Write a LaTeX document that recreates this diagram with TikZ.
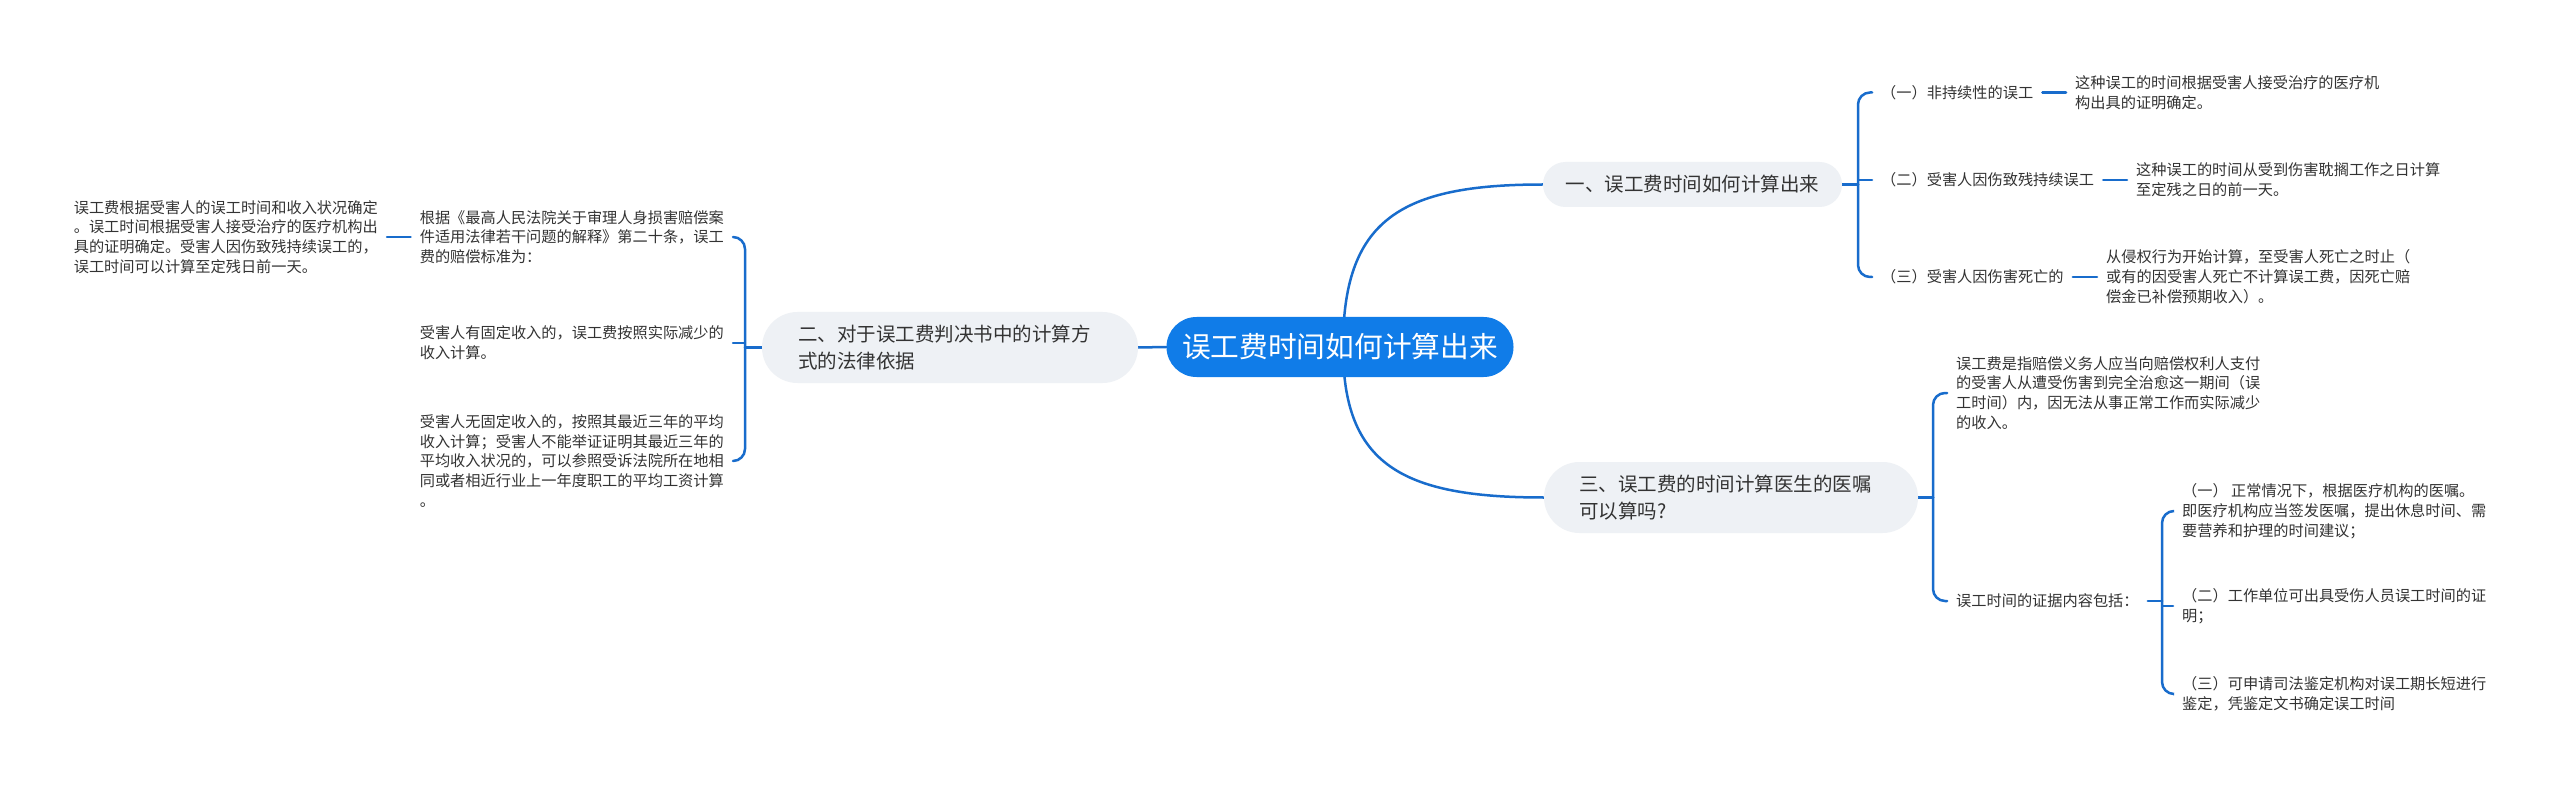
\documentclass[tikz,border=0pt]{standalone}
\usepackage{fontspec}
\setmainfont{Noto Sans CJK SC}
\definecolor{rootblue}{RGB}{16,124,232}
\definecolor{linkblue}{RGB}{24,108,204}
\definecolor{branchgray}{RGB}{238,241,245}
\definecolor{txt}{RGB}{51,51,51}
\pgfdeclarelayer{bg}
\pgfsetlayers{bg,main}
\begin{document}
\begin{tikzpicture}[x=1pt,y=-1pt,
  link/.style={draw=linkblue, line width=2.5pt, line cap=round},
  rc/.style={rounded corners=12pt},
  rootnode/.style={fill=rootblue, text=white, rounded corners=30pt, minimum width=347pt, minimum height=60pt, inner sep=0pt, font=\fontsize{28.7}{34}\selectfont},
  branchnode/.style={fill=branchgray, text=txt, align=left, font=\fontsize{19.5}{27}\selectfont, inner ysep=0pt},
  leaf/.style={text=txt, align=left, inner xsep=9pt, inner ysep=2pt, font=\fontsize{15.2}{19.8}\selectfont},
]
\useasboundingbox (0,0) rectangle (2560,786);

% root and main branches
\node[rootnode] (root) at (1340,347) {误工费时间如何计算出来};
\node[branchnode, minimum width=299pt, minimum height=45pt, rounded corners=22.5pt, inner xsep=0pt] (b1) at (1692.5,184.5) {一、误工费时间如何计算出来};
\node[branchnode, text width=304pt, inner xsep=36pt, minimum height=71pt, rounded corners=35.5pt] (b2) at (950,347.5) {二、对于误工费判决书中的计算方\\式的法律依据};
\node[branchnode, text width=304pt, inner xsep=35pt, minimum height=71pt, rounded corners=35.5pt] (b3) at (1731,497.5) {三、误工费的时间计算医生的医嘱\\可以算吗?};

% branch 1 children
\coordinate (s1) at (1858,184.5);
\node[leaf, anchor=west] (c11) at (1872,92.5) {（一）非持续性的误工};
\node[leaf, anchor=west] (l11) at (2066,92.5) {这种误工的时间根据受害人接受治疗的医疗机\\构出具的证明确定。};
\node[leaf, anchor=west] (c12) at (1872,180) {（二）受害人因伤致残持续误工};
\node[leaf, anchor=west] (l12) at (2127,180) {这种误工的时间从受到伤害耽搁工作之日计算\\至定残之日的前一天。};
\node[leaf, anchor=west] (c13) at (1872,277) {（三）受害人因伤害死亡的};
\node[leaf, anchor=west] (l13) at (2097,277) {从侵权行为开始计算，至受害人死亡之时止（\\或有的因受害人死亡不计算误工费，因死亡赔\\偿金已补偿预期收入）。};

% branch 3 children
\coordinate (s3) at (1933,497.5);
\node[leaf, anchor=west] (c31) at (1947,393) {误工费是指赔偿义务人应当向赔偿权利人支付\\的受害人从遭受伤害到完全治愈这一期间（误\\工时间）内，因无法从事正常工作而实际减少\\的收入。};
\node[leaf, anchor=west] (c32) at (1947,601) {误工时间的证据内容包括：};
\coordinate (s32) at (2162,601);
\node[leaf, anchor=west] (d1) at (2173,511) {（一） 正常情况下，根据医疗机构的医嘱。\\即医疗机构应当签发医嘱，提出休息时间、需\\要营养和护理的时间建议；};
\node[leaf, anchor=west] (d2) at (2173,606) {（二）工作单位可出具受伤人员误工时间的证\\明；};
\node[leaf, anchor=west] (d3) at (2173,694) {（三）可申请司法鉴定机构对误工期长短进行\\鉴定，凭鉴定文书确定误工时间};

% branch 2 children
\coordinate (s2) at (745,347.5);
\node[leaf, anchor=east] (e1) at (733,237) {根据《最高人民法院关于审理人身损害赔偿案\\件适用法律若干问题的解释》第二十条，误工\\费的赔偿标准为：};
\node[leaf, anchor=east] (e2) at (733,343) {受害人有固定收入的，误工费按照实际减少的\\收入计算。};
\node[leaf, anchor=east] (e3) at (733,461) {受害人无固定收入的，按照其最近三年的平均\\收入计算；受害人不能举证证明其最近三年的\\平均收入状况的，可以参照受诉法院所在地相\\同或者相近行业上一年度职工的平均工资计算\\。};
\node[leaf, anchor=east] (f1) at (387,237) {误工费根据受害人的误工时间和收入状况确定\\。误工时间根据受害人接受治疗的医疗机构出\\具的证明确定。受害人因伤致残持续误工的，\\误工时间可以计算至定残日前一天。};

\begin{pgfonlayer}{bg}
\fill[white] (0,0) rectangle (2560,786);
% root links
\draw[link] ([xshift=3pt]root.center) .. controls +(0,-127) and +(-143,0) .. (b1.west);
\draw[link] ([xshift=3pt]root.center) .. controls +(0,117) and +(-143,0) .. (b3.west);
\draw[link] (b2.east) -- (root.west);
% branch 1
\draw[link] (b1.east) -- (s1);
\draw[link, rc] (s1) |- (c11.west);
\draw[link] (s1) |- (c12.west);
\draw[link, rc] (s1) |- (c13.west);
\draw[link] (c11.east) -- (l11.west);
\draw[link] (c12.east) -- (l12.west);
\draw[link] (c13.east) -- (l13.west);
% branch 3
\draw[link] (b3.east) -- (s3);
\draw[link, rc] (s3) |- (c31.west);
\draw[link, rc] (s3) |- (c32.west);
\draw[link] (c32.east) -- (s32);
\draw[link, rc] (s32) |- (d1.west);
\draw[link] (s32) |- (d2.west);
\draw[link, rc] (s32) |- (d3.west);
% branch 2
\draw[link] (b2.west) -- (s2);
\draw[link, rc] (s2) |- (e1.east);
\draw[link] (s2) |- (e2.east);
\draw[link, rc] (s2) |- (e3.east);
\draw[link] (e1.west) -- (f1.east);
\end{pgfonlayer}
\end{tikzpicture}
\end{document}
